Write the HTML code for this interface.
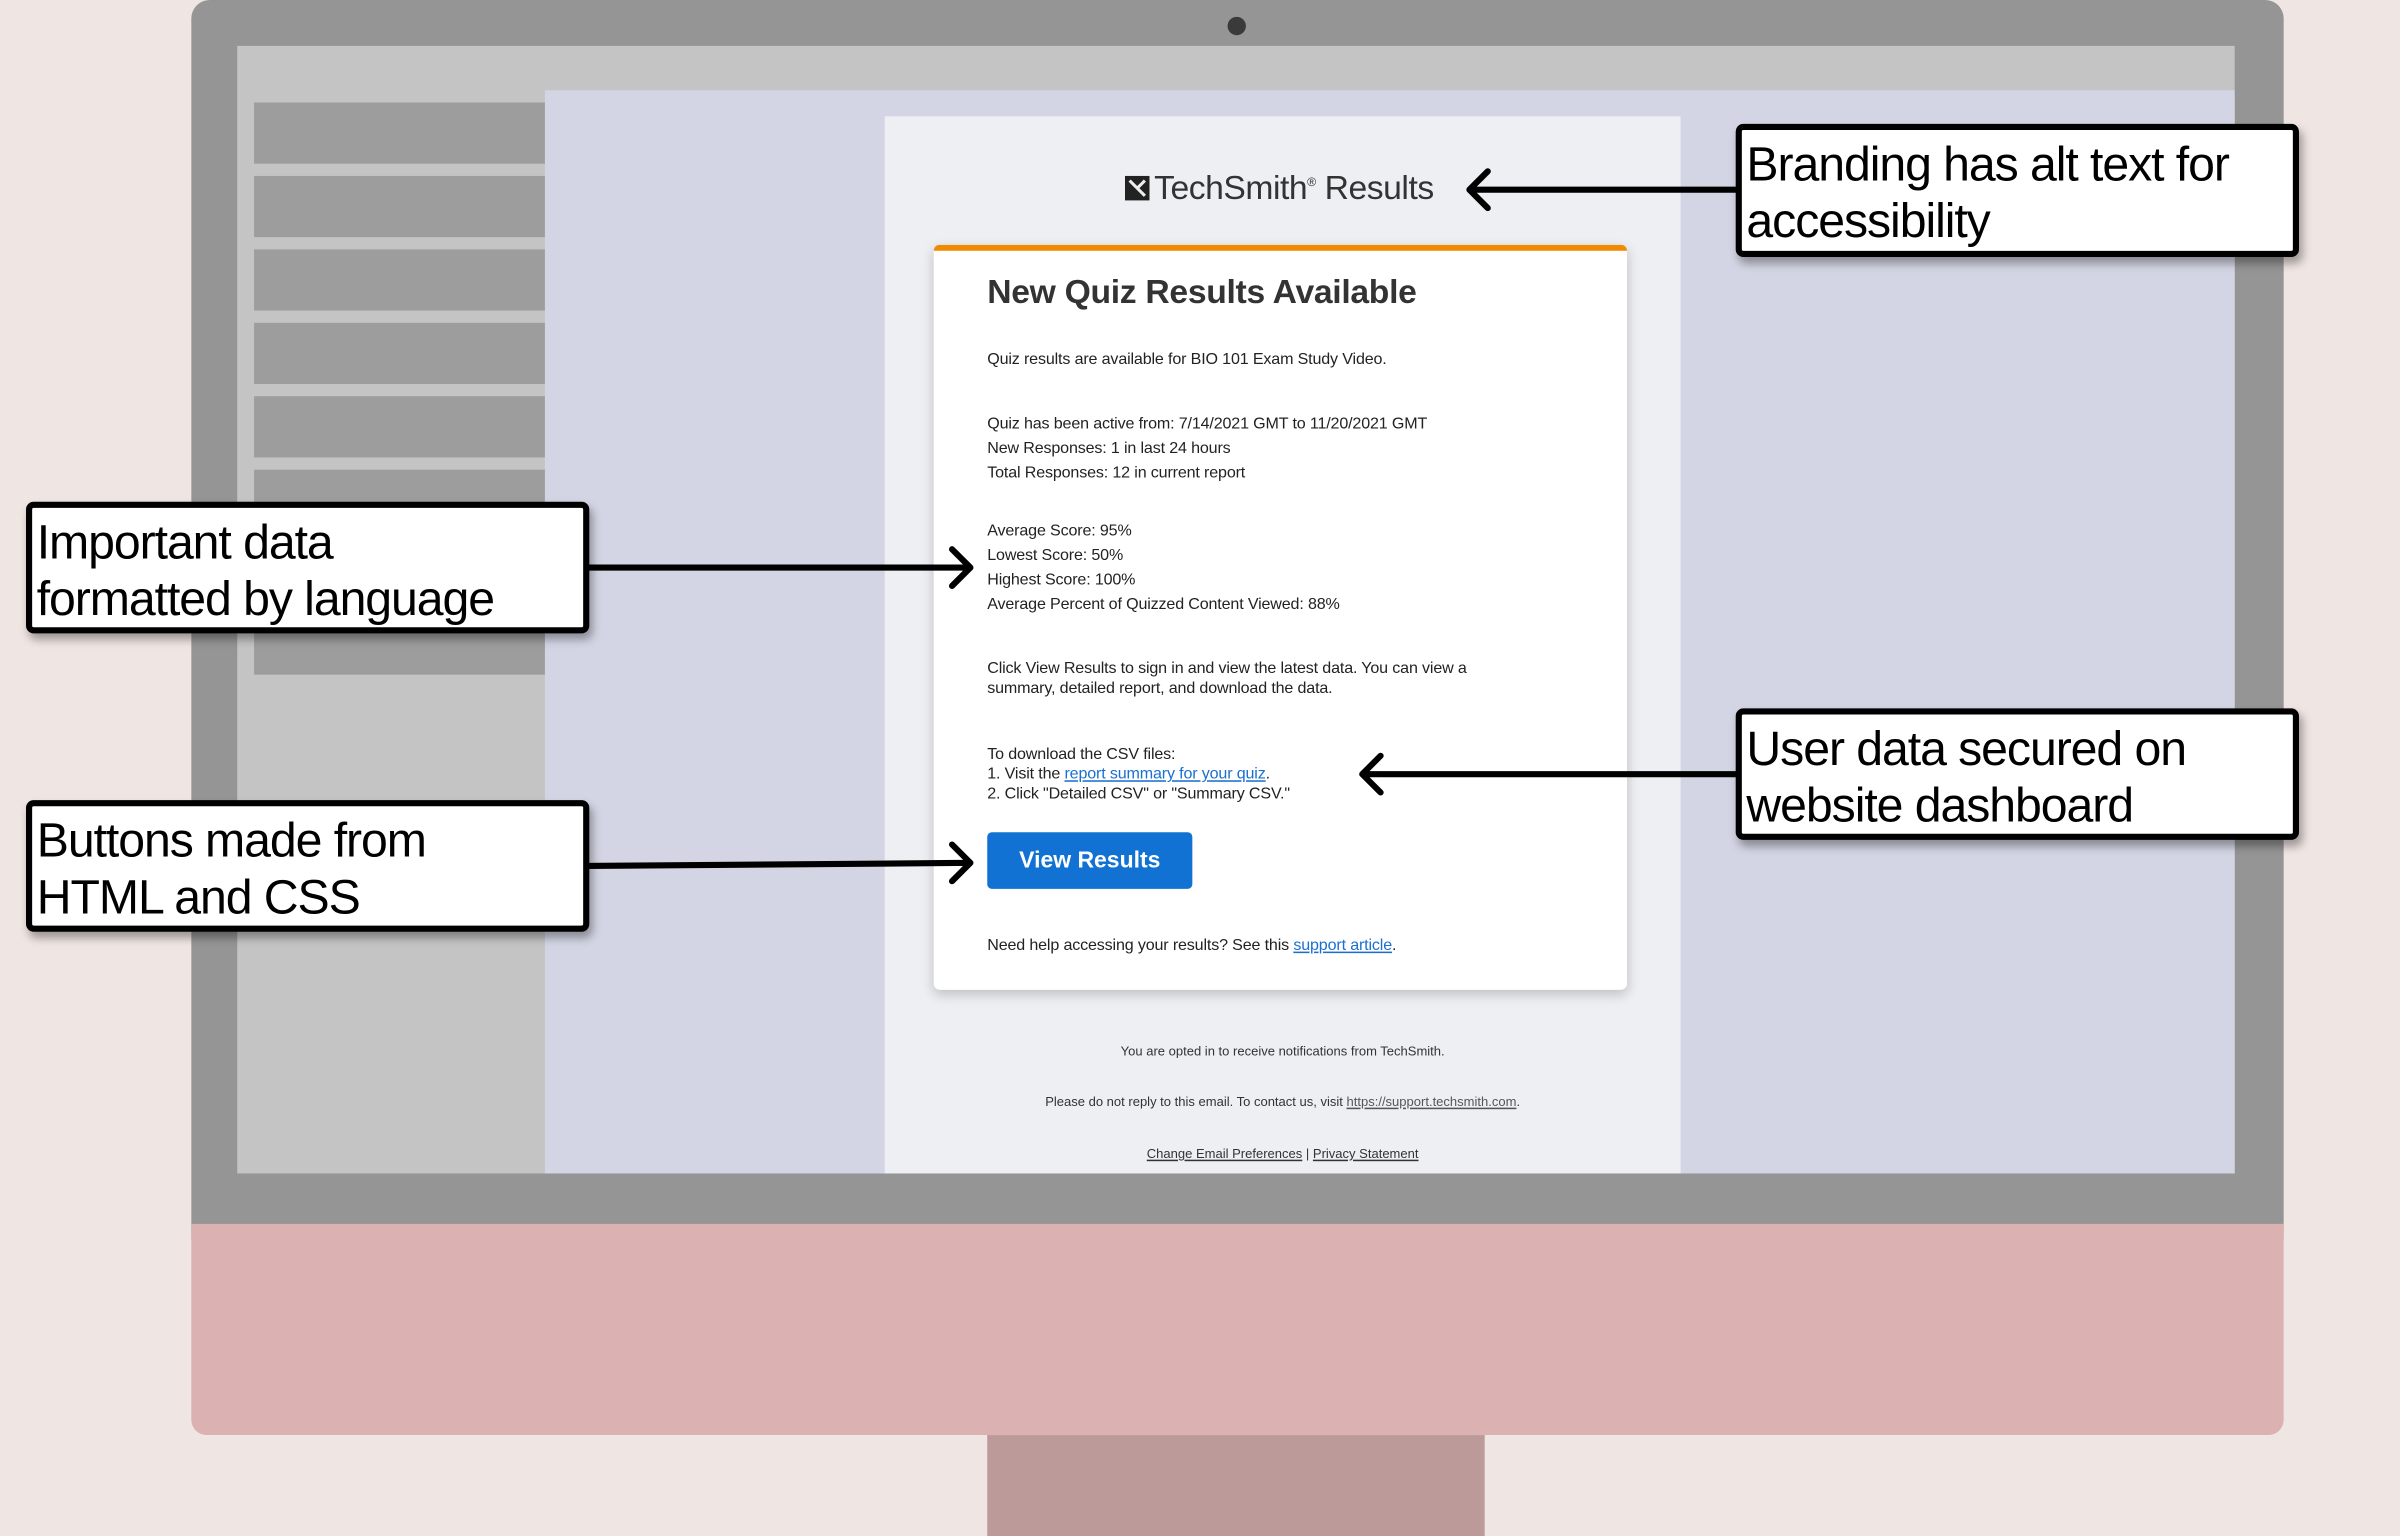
<!DOCTYPE html>
<html><head><meta charset="utf-8"><style>
*{margin:0;padding:0;box-sizing:border-box}
html,body{width:2400px;height:1536px;overflow:hidden;background:#efe5e2}
#w{position:absolute;left:0;top:0;width:1568px;height:1004px;transform:scale(1.53061,1.5299);transform-origin:0 0;font-family:"Liberation Sans",Arial,sans-serif}
.a{position:absolute}
.side{left:166px;width:190px;height:40px;background:#9d9d9d}
.lab{position:absolute;background:#fff;border:4px solid #000;border-radius:5px;box-shadow:2px 4px 6px rgba(0,0,0,.35);font-size:31.5px;line-height:37px;padding:4px 0 0 3px;letter-spacing:-0.7px;color:#000;white-space:nowrap}
.t{position:absolute;left:645px;font-size:10.5px;line-height:16px;color:#222;white-space:nowrap;letter-spacing:-0.1px}
.lk{color:#1a6fd0;text-decoration:underline}
.f{position:absolute;left:578px;width:520px;text-align:center;font-size:8.5px;color:#333}
</style></head><body><div id="w">
<div class="a" style="left:125px;top:0;width:1367px;height:810px;background:#959595;border-radius:12px 12px 0 0"></div>
<div class="a" style="left:125px;top:800px;width:1367px;height:138px;background:#dbb1b2;border-radius:0 0 10px 10px"></div>
<div class="a" style="left:645px;top:938px;width:325px;height:66px;background:#bc9a9a"></div>
<div class="a" style="left:802px;top:11px;width:12px;height:12px;border-radius:50%;background:#3a3a3a"></div>
<div class="a" style="left:155px;top:30px;width:1305px;height:737px;background:#c4c4c4"></div>
<div class="a" style="left:356px;top:59px;width:1104px;height:708px;background:#d3d5e4"></div>
<div class="a side" style="top:67px"></div>
<div class="a side" style="top:115px"></div>
<div class="a side" style="top:163px"></div>
<div class="a side" style="top:211px"></div>
<div class="a side" style="top:259px"></div>
<div class="a side" style="top:307px;height:134px"></div>
<div class="a" style="left:578px;top:76px;width:520px;height:691px;background:#eeeff3"></div>
<div class="a" style="left:735px;top:110px;font-size:22px;color:#333;white-space:nowrap;letter-spacing:-0.3px"><span style="display:inline-block;width:16px;height:16px;background:#222;vertical-align:-1px;margin-right:3px;position:relative"><svg width="16" height="16" style="position:absolute;left:0;top:0"><path d="M3 3 L13 13 M13 3 L8 8" stroke="#eee" stroke-width="2"/></svg></span>TechSmith<sup style="font-size:8px">®</sup> Results</div>
<div class="a" style="left:610px;top:160px;width:453px;height:487px;background:#fff;border-top:4px solid #f08a00;border-radius:4px;box-shadow:0 3px 8px rgba(0,0,0,.2)"></div>
<div class="a" style="left:645px;top:178px;font-size:22px;font-weight:bold;color:#333;white-space:nowrap;letter-spacing:-0.2px">New Quiz Results Available</div>
<div class="t" style="top:227px">Quiz results are available for BIO 101 Exam Study Video.</div>
<div class="t" style="top:269px">Quiz has been active from: 7/14/2021 GMT to 11/20/2021 GMT<br>New Responses: 1 in last 24 hours<br>Total Responses: 12 in current report</div>
<div class="t" style="top:339px">Average Score: 95%<br>Lowest Score: 50%<br>Highest Score: 100%<br>Average Percent of Quizzed Content Viewed: 88%</div>
<div class="t" style="top:431px;line-height:13px">Click View Results to sign in and view the latest data. You can view a<br>summary, detailed report, and download the data.</div>
<div class="t" style="top:487px;line-height:13px">To download the CSV files:<br>1. Visit the <span class="lk">report summary for your quiz</span>.<br>2. Click "Detailed CSV" or "Summary CSV."</div>
<div class="a" style="left:645px;top:544px;width:134px;height:37px;background:#1172d4;border-radius:3px;color:#fff;font-weight:bold;font-size:15px;line-height:37px;text-align:center">View Results</div>
<div class="t" style="top:610px">Need help accessing your results? See this <span class="lk">support article</span>.</div>
<div class="f" style="top:682px">You are opted in to receive notifications from TechSmith.</div>
<div class="f" style="top:715px">Please do not reply to this email. To contact us, visit <u style="color:#555">https://support.techsmith.com</u>.</div>
<div class="f" style="top:749px"><u>Change Email Preferences</u> | <u>Privacy Statement</u></div>
<svg class="a" style="left:0;top:0" width="1568" height="1004"><g stroke="#000" stroke-width="4" fill="none" stroke-linecap="round" stroke-linejoin="round">
<path d="M1134 124 H960 M972 112 L960 124 L972 136"/>
<path d="M383 371 H634 M622 359 L634 371 L622 383"/>
<path d="M383 566 L634 564 M622 552 L634 564 L622 576"/>
<path d="M1134 506 H890 M902 494 L890 506 L902 518"/>
</g></svg>
<div class="lab" style="left:1134px;top:81px;width:368px;height:87px">Branding has alt text for<br>accessibility</div>
<div class="lab" style="left:17px;top:328px;width:368px;height:86px">Important data<br>formatted by language</div>
<div class="lab" style="left:17px;top:523px;width:368px;height:86px">Buttons made from<br>HTML and CSS</div>
<div class="lab" style="left:1134px;top:463px;width:368px;height:86px">User data secured on<br>website dashboard</div>
</div></body></html>
